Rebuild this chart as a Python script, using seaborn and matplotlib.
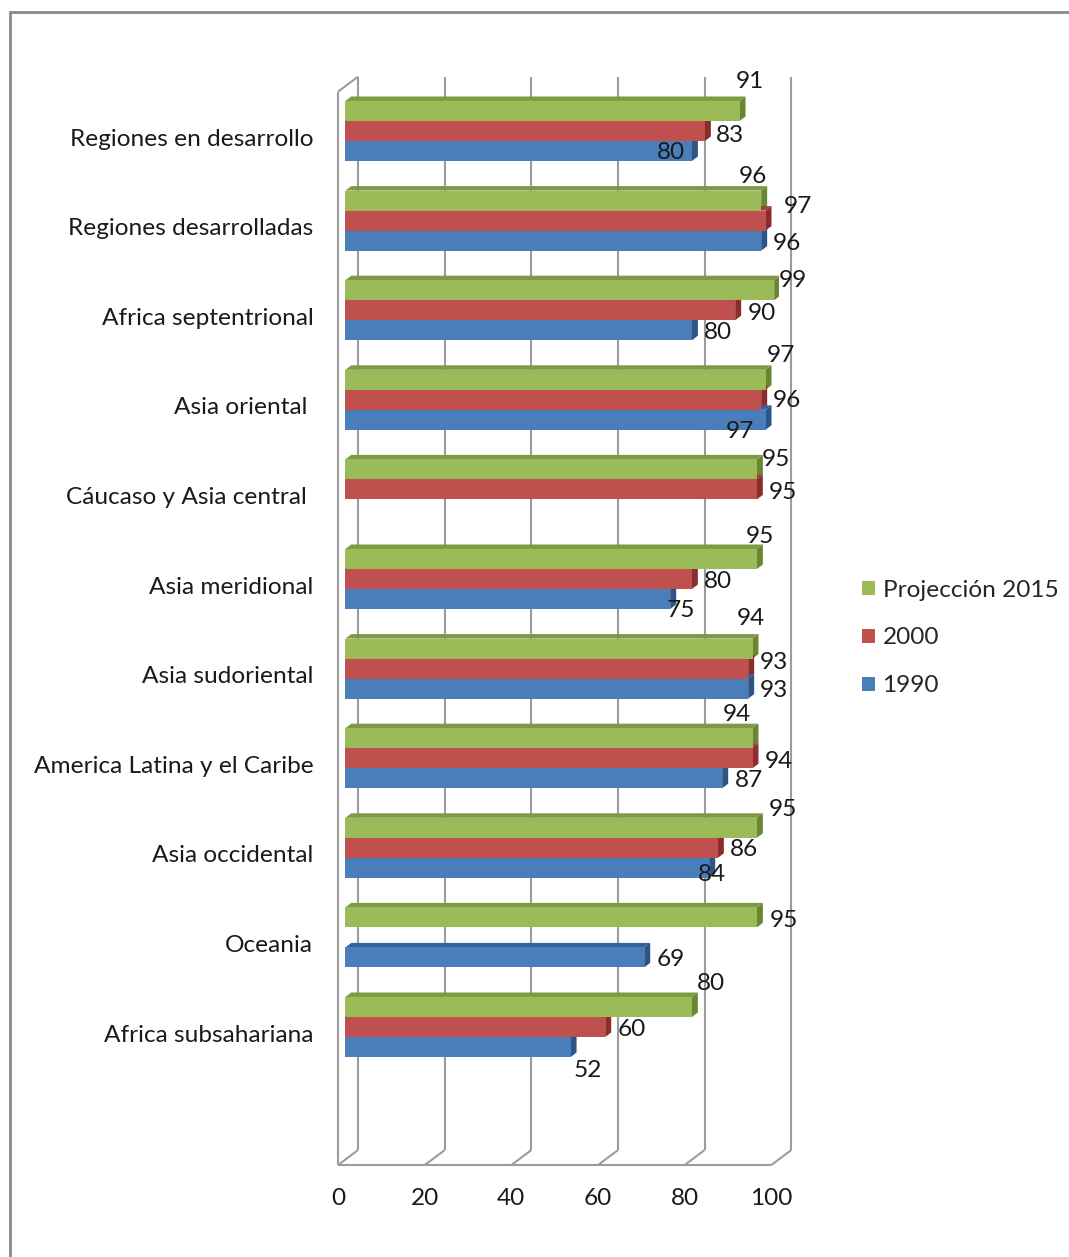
import numpy as np
import pandas as pd
import matplotlib
matplotlib.use("Agg")
import matplotlib.pyplot as plt
import seaborn as sns
from matplotlib.patches import Polygon, Rectangle, Patch
from matplotlib.lines import Line2D
from matplotlib.transforms import ScaledTranslation

# ---- data -------------------------------------------------------------
regions = [
    "Regiones en desarrollo",
    "Regiones desarrolladas",
    "Africa septentrional",
    "Asia oriental ",
    "Cáucaso y Asia central ",
    "Asia meridional",
    "Asia sudoriental",
    "America Latina y el Caribe",
    "Asia occidental",
    "Oceania",
    "Africa subsahariana",
]
series = ["Projección 2015", "2000", "1990"]
proj_2015 = [91, 96, 99, 97, 95, 95, 94, 94, 95, 95, 80]
year_2000 = [83, 97, 90, 96, 95, 80, 93, 94, 86, np.nan, 60]
year_1990 = [80, 96, 80, 97, np.nan, 75, 93, 87, 84, 69, 52]
x_ticks = [0, 20, 40, 60, 80, 100]

# label nudges in pixels (dx from bar end, dy downward from bar centre)
nudge_2015 = [(10, -31), (-8, -26), (19, -12), (15, -26), (19, -12), (3, -24),
              (-2, -32), (-16, -26), (26, -20), (27, 1), (19, -25)]
nudge_2000 = [(25, 2), (32, -16), (27, 1), (26, -1), (26, 1), (26, 1),
              (26, -8), (26, 1), (26, 0), None, (27, 0)]
nudge_1990 = [(-21, -1), (26, 1), (26, 0), (-26, 10), None, (11, 9),
              (26, 0), (27, 0), (3, 5), (27, 0), (17, 21)]

values = {series[0]: proj_2015, series[1]: year_2000, series[2]: year_1990}
nudges = {series[0]: nudge_2015, series[1]: nudge_2000, series[2]: nudge_1990}

front_col = {series[0]: "#9BBB59", series[1]: "#C0504D", series[2]: "#4A7EBB"}
top_col = {series[0]: "#7F9A46", series[1]: "#A3403D", series[2]: "#36649A"}
side_col = {series[0]: "#6B8633", series[1]: "#8A2E2B", series[2]: "#2C5486"}

rows = []
for s in series:
    for r, v in zip(regions, values[s]):
        if not np.isnan(v):
            rows.append({"region": r, "serie": s, "valor": v})
df = pd.DataFrame(rows)

# ---- figure -----------------------------------------------------------
sns.set_theme(style="white")
plt.rcParams["font.family"] = ["Lato", "DejaVu Sans"]
FS = 17.6
TXT = "#1A1A1A"

W, H = 1069, 1257
fig = plt.figure(figsize=(W / 100, H / 100), dpi=100)

# outer chart border
fig.patches.append(Rectangle((10 / W, -0.1), 1.2, (1 - 12 / H) + 0.1,
                             transform=fig.transFigure, fill=False,
                             edgecolor="#8A8A8A", linewidth=2.0, zorder=0))

ax_left, ax_right = 345.3, 778.5
ax_top, ax_bottom = 41.4, 1161.4
ax = fig.add_axes([ax_left / W, 1 - ax_bottom / H,
                   (ax_right - ax_left) / W, (ax_bottom - ax_top) / H])

sns.barplot(data=df, x="valor", y="region", hue="serie", order=regions,
            hue_order=series, palette=front_col, orient="h", width=0.67,
            saturation=1, linewidth=0, legend=False, ax=ax, zorder=3)

ax.set_xlim(0, 100)
ax.set_ylim(11.5, -1.0)
for sp in ax.spines.values():
    sp.set_visible(False)
ax.grid(False)
ax.set_xlabel("")
ax.set_ylabel("")

# data units per pixel
ux = 100 / (ax_right - ax_left)
uy = 12.5 / (ax_bottom - ax_top)

# front / back planes of the 3-D box, relative to the bar faces
fx, fy = -7.3 * ux, 5.5 * uy
bx, by = 12.7 * ux, -9.5 * uy
y_top, y_floor = -0.5, 11.48
grid_kw = dict(color="#9C9C9C", linewidth=1.5, zorder=1, clip_on=False,
               solid_capstyle="butt")
for v in x_ticks:
    ax.add_line(Line2D([v + bx, v + bx], [y_top + by, y_floor + by], **grid_kw))
    ax.add_line(Line2D([v + fx, v + bx], [y_floor + fy, y_floor + by], **grid_kw))
ax.add_line(Line2D([0 + fx, 100 + fx], [y_floor + fy, y_floor + fy], **grid_kw))
ax.add_line(Line2D([fx, fx], [y_top + fy, y_floor + fy], **grid_kw))
ax.add_line(Line2D([fx, bx], [y_top + fy, y_top + by], **grid_kw))

# depth faces of each bar
ddx, ddy = 6 * ux, 4.5 * uy
col_lookup = {tuple(np.round(matplotlib.colors.to_rgb(c), 3)): s
              for s, c in front_col.items()}
for p in list(ax.patches):
    w = p.get_width()
    if not np.isfinite(w) or w <= 0:
        continue
    s = col_lookup.get(tuple(np.round(p.get_facecolor()[:3], 3)))
    if s is None:
        continue
    x0, y0, h = p.get_x(), p.get_y(), p.get_height()
    x1, y1 = x0 + w, y0 + h
    top = Polygon([(x0, y0), (x1, y0), (x1 + ddx, y0 - ddy), (x0 + ddx, y0 - ddy)],
                  closed=True, facecolor=top_col[s], edgecolor="none", zorder=2)
    side = Polygon([(x1, y0), (x1, y1), (x1 + ddx, y1 - ddy), (x1 + ddx, y0 - ddy)],
                   closed=True, facecolor=side_col[s], edgecolor="none", zorder=2)
    ax.add_patch(top)
    ax.add_patch(side)

# value labels
bar_h = 0.67 / 3
for k, s in enumerate(series):
    off = (k - 1) * bar_h
    for i, v in enumerate(values[s]):
        if np.isnan(v):
            continue
        dx, dy = nudges[s][i]
        ax.annotate(f"{v:.0f}", xy=(v, i + off), xytext=(dx, -dy - 2),
                    textcoords="offset pixels", ha="center", va="center",
                    fontsize=FS, color=TXT, zorder=5, annotation_clip=False)

# x tick labels on the front edge of the floor
ax.set_xticks(x_ticks)
ax.set_xticklabels([str(t) for t in x_ticks], fontsize=FS, color=TXT)
ax.tick_params(axis="x", length=0, pad=19)
shift_x = ScaledTranslation(-7.3 / 100, 0, fig.dpi_scale_trans)
for lab in ax.get_xticklabels():
    lab.set_transform(lab.get_transform() + shift_x)

# category labels
ax.set_yticks(range(len(regions)))
ax.set_yticklabels(regions, fontsize=FS, color=TXT)
ax.tick_params(axis="y", length=0, pad=23)
shift_y = ScaledTranslation(0, -6 / 100, fig.dpi_scale_trans)
for lab in ax.get_yticklabels():
    lab.set_transform(lab.get_transform() + shift_y)

# legend
handles = [Patch(facecolor=front_col[s], edgecolor="none") for s in series]
fig.legend(handles, series, loc="center left",
           bbox_to_anchor=(862 / W, 1 - 638 / H), frameon=False, fontsize=FS,
           handlelength=0.52, handleheight=0.52, handletextpad=0.32,
           labelspacing=1.1, borderpad=0, borderaxespad=0)

fig.savefig("out.png", dpi=100)
